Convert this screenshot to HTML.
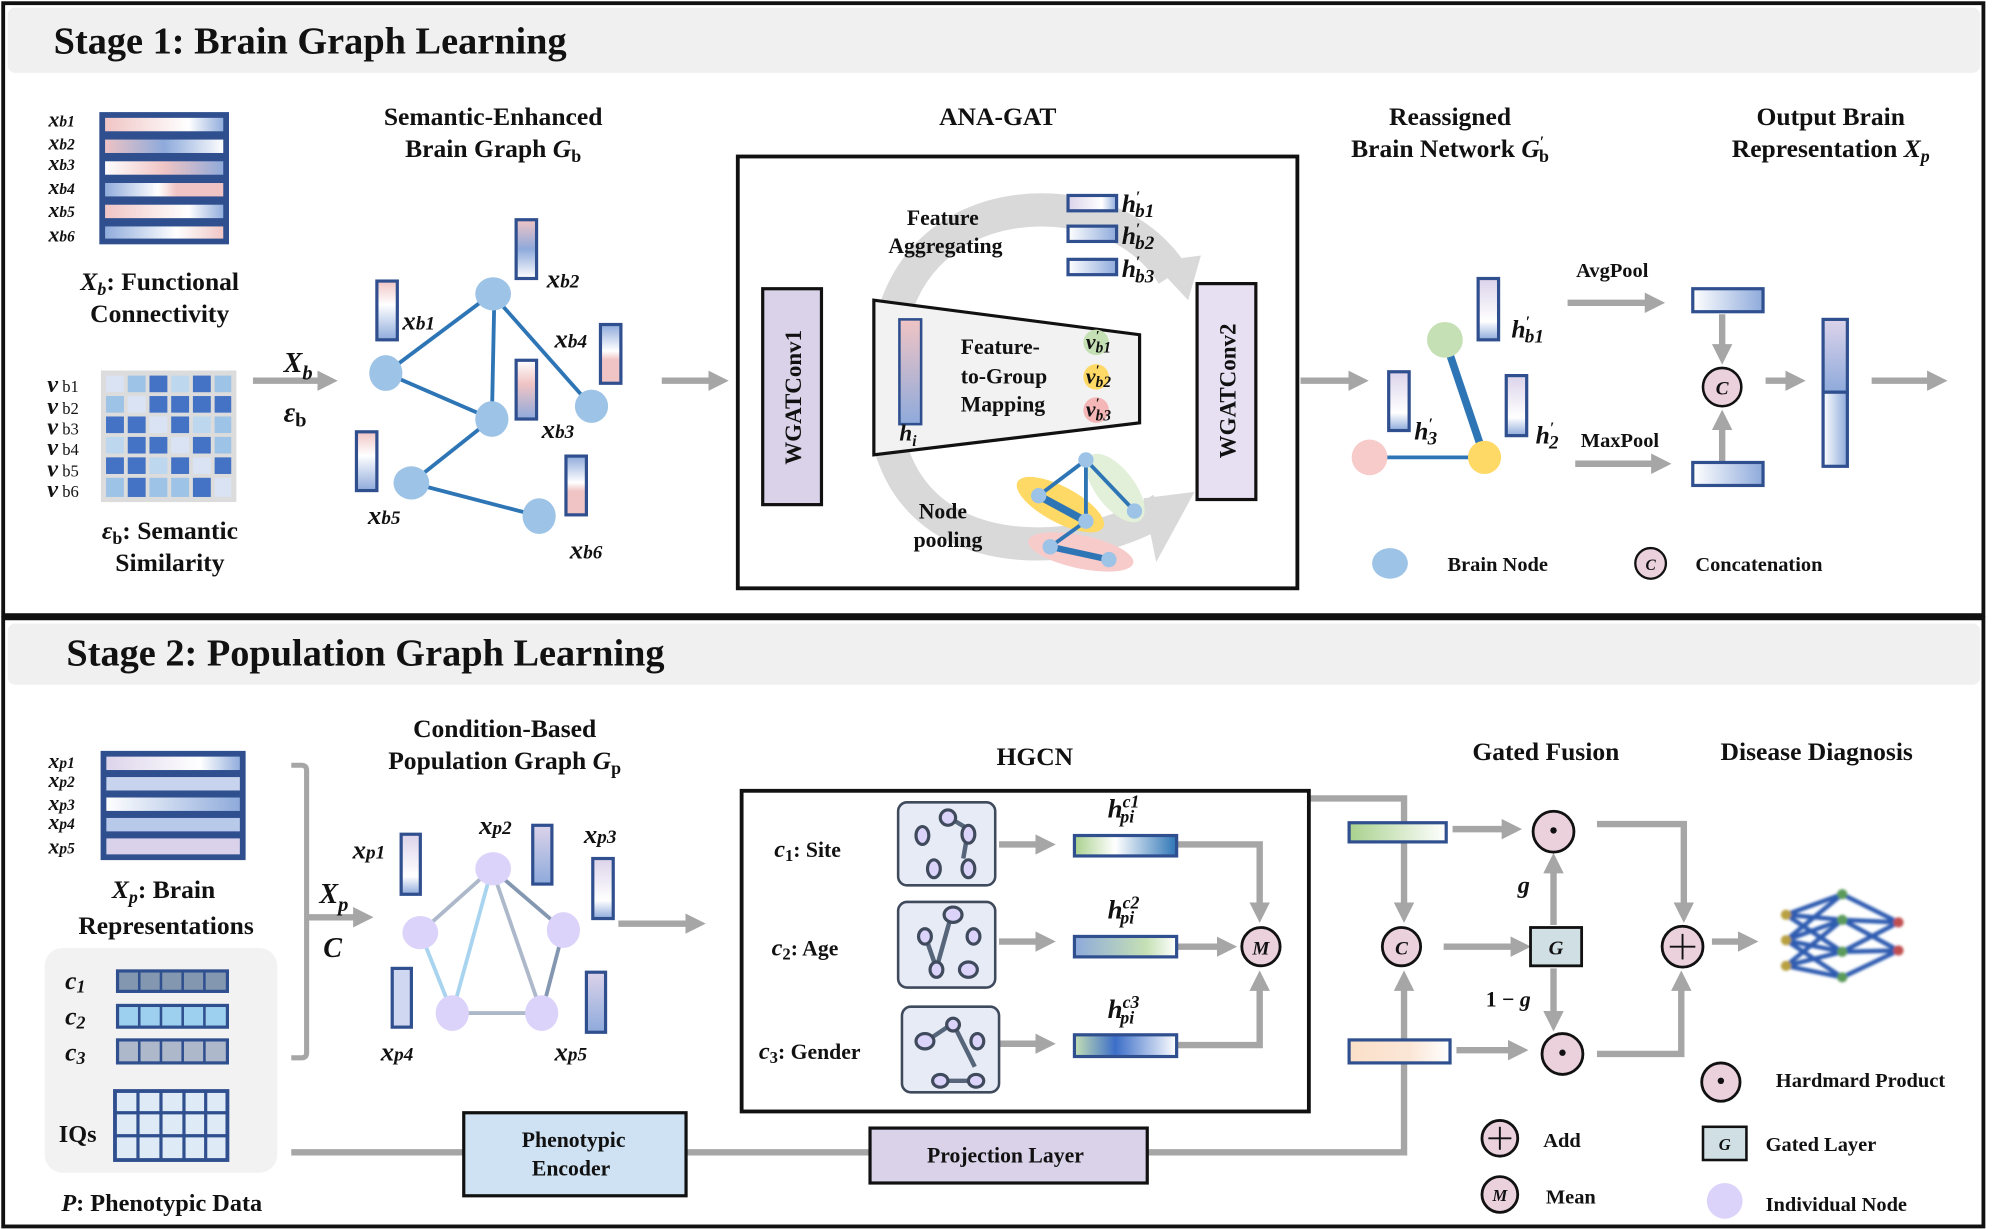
<!DOCTYPE html>
<html><head><meta charset="utf-8"><style>
html,body{margin:0;padding:0;background:#fff}
svg{display:block}
text{font-family:"Liberation Serif",serif;font-weight:bold;fill:#111}
</style></head><body>
<svg width="1993" height="1229" viewBox="0 0 1560 962" preserveAspectRatio="none" xmlns="http://www.w3.org/2000/svg">
<defs>
<marker id="ar" viewBox="0 0 10 10" refX="6" refY="5" markerWidth="3.2" markerHeight="3.2" orient="auto"><path d="M0,0L10,5L0,10z" fill="#a6a6a6"/></marker>
<linearGradient id="g1"><stop offset="0" stop-color="#f0c4c4"/><stop offset=".7" stop-color="#fff"/><stop offset="1" stop-color="#8eaadb"/></linearGradient>
<linearGradient id="g2"><stop offset="0" stop-color="#f0c4c4"/><stop offset=".5" stop-color="#8eaadb"/><stop offset="1" stop-color="#fff"/></linearGradient>
<linearGradient id="g3"><stop offset="0" stop-color="#fff"/><stop offset=".5" stop-color="#f0c4c4"/><stop offset="1" stop-color="#8eaadb"/></linearGradient>
<linearGradient id="g4"><stop offset="0" stop-color="#8eaadb"/><stop offset=".45" stop-color="#fff"/><stop offset=".6" stop-color="#f0c4c4"/><stop offset="1" stop-color="#f0c4c4"/></linearGradient>
<linearGradient id="g6"><stop offset="0" stop-color="#8eaadb"/><stop offset=".6" stop-color="#fff"/><stop offset="1" stop-color="#f0c4c4"/></linearGradient>
<linearGradient id="v1" x2="0" y2="1"><stop offset="0" stop-color="#f0c4c4"/><stop offset=".4" stop-color="#fff"/><stop offset="1" stop-color="#8eaadb"/></linearGradient>
<linearGradient id="v2" x2="0" y2="1"><stop offset="0" stop-color="#f0c4c4"/><stop offset=".5" stop-color="#8eaadb"/><stop offset="1" stop-color="#fff"/></linearGradient>
<linearGradient id="v3" x2="0" y2="1"><stop offset="0" stop-color="#fff"/><stop offset=".4" stop-color="#f0c4c4"/><stop offset="1" stop-color="#8eaadb"/></linearGradient>
<linearGradient id="v4" x2="0" y2="1"><stop offset="0" stop-color="#8eaadb"/><stop offset=".45" stop-color="#fff"/><stop offset=".6" stop-color="#f0c4c4"/></linearGradient>
<linearGradient id="vh" x2="0" y2="1"><stop offset="0" stop-color="#f0c4c4"/><stop offset="1" stop-color="#8eaadb"/></linearGradient>
<linearGradient id="pp"><stop offset="0" stop-color="#dcd3ea"/><stop offset=".7" stop-color="#fff"/><stop offset="1" stop-color="#8eaadb"/></linearGradient>
<linearGradient id="pb"><stop offset="0" stop-color="#fff"/><stop offset="1" stop-color="#8eaadb"/></linearGradient>
<linearGradient id="pv" x2="0" y2="1"><stop offset="0" stop-color="#dcd3ea"/><stop offset=".7" stop-color="#fff"/><stop offset="1" stop-color="#8eaadb"/></linearGradient>
<linearGradient id="pv2" x2="0" y2="1"><stop offset="0" stop-color="#dcd3ea"/><stop offset="1" stop-color="#8eaadb"/></linearGradient>
<linearGradient id="hc1"><stop offset="0" stop-color="#a9d18e"/><stop offset=".4" stop-color="#fff"/><stop offset="1" stop-color="#2e75b6"/></linearGradient>
<linearGradient id="hc2"><stop offset="0" stop-color="#8eaadb"/><stop offset=".7" stop-color="#c5e0b4"/><stop offset="1" stop-color="#fff"/></linearGradient>
<linearGradient id="hc3"><stop offset="0" stop-color="#c5e0b4"/><stop offset=".4" stop-color="#3c6ec8"/><stop offset="1" stop-color="#fff"/></linearGradient>
<linearGradient id="gg"><stop offset="0" stop-color="#a9d18e"/><stop offset="1" stop-color="#fff"/></linearGradient>
<linearGradient id="go"><stop offset="0" stop-color="#fbe0c8"/><stop offset=".6" stop-color="#fbe6d6"/><stop offset="1" stop-color="#fff"/></linearGradient>
<filter id="bl"><feGaussianBlur stdDeviation="1"/></filter>
</defs>
<rect width="1560" height="962" fill="#fff"/>
<rect x="6" y="6" width="1544" height="51" rx="6" fill="#f0f0f0"/>
<rect x="2.5" y="2.5" width="1550" height="479" fill="none" stroke="#111" stroke-width="3"/>
<rect x="6" y="488" width="1544" height="48" rx="6" fill="#f0f0f0"/>
<rect x="2.5" y="484" width="1550" height="476" fill="none" stroke="#111" stroke-width="3"/>
<text x="42" y="42" font-size="30">Stage 1: Brain Graph Learning</text>
<text x="52" y="521" font-size="30">Stage 2: Population Graph Learning</text>

<g stroke="#2f4f8f" stroke-width="2.5">
<rect x="79" y="89" width="99" height="101" fill="#2f4f8f"/>
<rect x="81" y="91" width="95" height="13" fill="url(#g1)"/>
<rect x="81" y="108" width="95" height="13" fill="url(#g2)"/>
<rect x="81" y="125" width="95" height="13" fill="url(#g3)"/>
<rect x="81" y="142" width="95" height="13" fill="url(#g4)"/>
<rect x="81" y="159" width="95" height="13" fill="url(#g1)"/>
<rect x="81" y="176" width="95" height="12" fill="url(#g6)"/>
</g>
<g font-size="17" font-style="italic" font-weight="normal">
<text x="38" y="99">x<tspan font-size="12">b1</tspan></text>
<text x="38" y="117">x<tspan font-size="12">b2</tspan></text>
<text x="38" y="133">x<tspan font-size="12">b3</tspan></text>
<text x="38" y="152">x<tspan font-size="12">b4</tspan></text>
<text x="38" y="170">x<tspan font-size="12">b5</tspan></text>
<text x="38" y="189">x<tspan font-size="12">b6</tspan></text>
</g>
<text x="125" y="227" font-size="20" text-anchor="middle"><tspan font-style="italic">X</tspan><tspan font-style="italic" font-size="14" dy="4">b</tspan><tspan dy="-4">: Functional</tspan></text>
<text x="125" y="252" font-size="20" text-anchor="middle">Connectivity</text>
<rect x="79" y="290" width="106" height="103" fill="#dcdcdc"/>
<g>
<rect x="83" y="294" width="14" height="13" fill="#dae3f3"/><rect x="100" y="294" width="14" height="13" fill="#9dc3e6"/><rect x="117" y="294" width="14" height="13" fill="#4472c4"/><rect x="134" y="294" width="14" height="13" fill="#bdd7ee"/><rect x="151" y="294" width="14" height="13" fill="#4472c4"/><rect x="168" y="294" width="13" height="13" fill="#9dc3e6"/>
<rect x="83" y="310" width="14" height="13" fill="#9dc3e6"/><rect x="100" y="310" width="14" height="13" fill="#dae3f3"/><rect x="117" y="310" width="14" height="13" fill="#4472c4"/><rect x="134" y="310" width="14" height="13" fill="#4472c4"/><rect x="151" y="310" width="14" height="13" fill="#4472c4"/><rect x="168" y="310" width="13" height="13" fill="#4472c4"/>
<rect x="83" y="326" width="14" height="13" fill="#4472c4"/><rect x="100" y="326" width="14" height="13" fill="#4472c4"/><rect x="117" y="326" width="14" height="13" fill="#dae3f3"/><rect x="134" y="326" width="14" height="13" fill="#4472c4"/><rect x="151" y="326" width="14" height="13" fill="#bdd7ee"/><rect x="168" y="326" width="13" height="13" fill="#9dc3e6"/>
<rect x="83" y="342" width="14" height="13" fill="#bdd7ee"/><rect x="100" y="342" width="14" height="13" fill="#4472c4"/><rect x="117" y="342" width="14" height="13" fill="#4472c4"/><rect x="134" y="342" width="14" height="13" fill="#dae3f3"/><rect x="151" y="342" width="14" height="13" fill="#4472c4"/><rect x="168" y="342" width="13" height="13" fill="#9dc3e6"/>
<rect x="83" y="358" width="14" height="13" fill="#4472c4"/><rect x="100" y="358" width="14" height="13" fill="#4472c4"/><rect x="117" y="358" width="14" height="13" fill="#bdd7ee"/><rect x="134" y="358" width="14" height="13" fill="#4472c4"/><rect x="151" y="358" width="14" height="13" fill="#dae3f3"/><rect x="168" y="358" width="13" height="13" fill="#4472c4"/>
<rect x="83" y="374" width="14" height="15" fill="#9dc3e6"/><rect x="100" y="374" width="14" height="15" fill="#4472c4"/><rect x="117" y="374" width="14" height="15" fill="#9dc3e6"/><rect x="134" y="374" width="14" height="15" fill="#9dc3e6"/><rect x="151" y="374" width="14" height="15" fill="#4472c4"/><rect x="168" y="374" width="13" height="15" fill="#dae3f3"/>
</g>
<g font-size="19">
<text x="37" y="307"><tspan font-style="italic">v</tspan><tspan font-size="13" font-weight="normal"> b1</tspan></text>
<text x="37" y="324"><tspan font-style="italic">v</tspan><tspan font-size="13" font-weight="normal"> b2</tspan></text>
<text x="37" y="340"><tspan font-style="italic">v</tspan><tspan font-size="13" font-weight="normal"> b3</tspan></text>
<text x="37" y="356"><tspan font-style="italic">v</tspan><tspan font-size="13" font-weight="normal"> b4</tspan></text>
<text x="37" y="373"><tspan font-style="italic">v</tspan><tspan font-size="13" font-weight="normal"> b5</tspan></text>
<text x="37" y="389"><tspan font-style="italic">v</tspan><tspan font-size="13" font-weight="normal"> b6</tspan></text>
</g>
<text x="133" y="422" font-size="20" text-anchor="middle"><tspan font-style="italic">ε</tspan><tspan font-size="14" dy="4">b</tspan><tspan dy="-4">: Semantic</tspan></text>
<text x="133" y="447" font-size="20" text-anchor="middle">Similarity</text>
<g stroke="#a6a6a6" stroke-width="5" fill="none" marker-end="url(#ar)">
<line x1="198" y1="298" x2="258" y2="298"/>
<line x1="518" y1="298" x2="564" y2="298"/>
<line x1="645" y1="298" x2="673" y2="298"/>
<line x1="1018" y1="298" x2="1065" y2="298"/>
<line x1="1227" y1="237" x2="1297" y2="237"/>
<line x1="1233" y1="363" x2="1302" y2="363"/>
<line x1="1348" y1="246" x2="1348" y2="279"/>
<line x1="1348" y1="362" x2="1348" y2="327"/>
<line x1="1382" y1="298" x2="1407" y2="298"/>
<line x1="1465" y1="298" x2="1518" y2="298"/>
</g>
<text x="222" y="291" font-size="22" font-style="italic">X<tspan font-size="16" dy="6">b</tspan></text>
<text x="222" y="330" font-size="22"><tspan font-style="italic">ε</tspan><tspan font-size="16" dy="4">b</tspan></text>
<text x="386" y="98" font-size="20" text-anchor="middle">Semantic-Enhanced</text>
<text x="386" y="123" font-size="20" text-anchor="middle">Brain Graph <tspan font-style="italic">G</tspan><tspan font-size="14" dy="4">b</tspan></text>
<g stroke="#2e75b6" stroke-width="3">
<line x1="385" y1="230" x2="302" y2="292"/><line x1="387" y1="230" x2="385" y2="328"/><line x1="385" y1="230" x2="463" y2="318"/>
<line x1="302" y1="292" x2="385" y2="328"/><line x1="385" y1="328" x2="322" y2="378"/><line x1="322" y1="378" x2="422" y2="404"/>
</g>
<g fill="#9dc3e6"><ellipse cx="386" cy="230" rx="14" ry="13"/><ellipse cx="302" cy="292" rx="13" ry="14"/><ellipse cx="385" cy="328" rx="13" ry="14"/><ellipse cx="463" cy="318" rx="13" ry="13"/><ellipse cx="322" cy="378" rx="14" ry="13"/><ellipse cx="422" cy="404" rx="13" ry="14"/></g>
<g stroke="#2f4f8f" stroke-width="2.5">
<rect x="295" y="220" width="16" height="46" fill="url(#v1)"/>
<rect x="404" y="172" width="16" height="46" fill="url(#v2)"/>
<rect x="470" y="254" width="16" height="46" fill="url(#v4)"/>
<rect x="404" y="282" width="16" height="46" fill="url(#v3)"/>
<rect x="279" y="338" width="16" height="46" fill="url(#v1)"/>
<rect x="443" y="357" width="16" height="46" fill="url(#v4)"/>
</g>
<g font-size="21" font-style="italic">
<text x="315" y="258">x<tspan font-size="15">b1</tspan></text>
<text x="428" y="225">x<tspan font-size="15">b2</tspan></text>
<text x="434" y="272">x<tspan font-size="15">b4</tspan></text>
<text x="424" y="343">x<tspan font-size="15">b3</tspan></text>
<text x="288" y="410">x<tspan font-size="15">b5</tspan></text>
<text x="446" y="437">x<tspan font-size="15">b6</tspan></text>
</g>
<text x="781" y="98" font-size="20" text-anchor="middle">ANA-GAT</text>
<rect x="577.5" y="122.5" width="438" height="338" fill="#fff" stroke="#111" stroke-width="3"/>
<g fill="none" stroke="#d9d9d9" stroke-width="26">
<path d="M700,245 C720,180 780,160 830,165 C880,170 905,195 918,215"/>
<path d="M697,350 C715,410 770,430 830,425 C870,420 900,405 910,398"/>
</g>
<path d="M902,205 L940,200 L930,235 Z" fill="#d9d9d9"/>
<path d="M895,390 L935,385 L905,440 Z" fill="#d9d9d9"/>
<text x="738" y="176" font-size="17" text-anchor="middle">Feature</text>
<text x="740" y="198" font-size="17" text-anchor="middle">Aggregating</text>
<g stroke="#2f4f8f" stroke-width="2.5">
<rect x="836" y="153" width="38" height="12" fill="url(#pp)"/>
<rect x="836" y="177" width="38" height="12" fill="url(#pb)"/>
<rect x="836" y="203" width="38" height="12" fill="url(#pb)"/>
</g>
<g font-size="20" font-style="italic">
<text x="878" y="166">h<tspan font-size="12" dy="-8">′</tspan><tspan font-size="15" dy="12" dx="-4">b1</tspan></text>
<text x="878" y="191">h<tspan font-size="12" dy="-8">′</tspan><tspan font-size="15" dy="12" dx="-4">b2</tspan></text>
<text x="878" y="217">h<tspan font-size="12" dy="-8">′</tspan><tspan font-size="15" dy="12" dx="-4">b3</tspan></text>
</g>
<rect x="597" y="226" width="46" height="169" fill="#d9d2e9" stroke="#111" stroke-width="2.5"/>
<text transform="translate(627,311) rotate(-90)" font-size="18" text-anchor="middle">WGATConv1</text>
<rect x="937" y="222" width="46" height="169" fill="#e6e0f2" stroke="#111" stroke-width="2.5"/>
<text transform="translate(967,306) rotate(-90)" font-size="18" text-anchor="middle">WGATConv2</text>
<path d="M684,235 L892,262 L892,331 L684,356 Z" fill="#f2f2f2" stroke="#111" stroke-width="2.5"/>
<rect x="704" y="250" width="17" height="82" fill="url(#vh)" stroke="#2f4f8f" stroke-width="2"/>
<text x="704" y="345" font-size="18" font-style="italic">h<tspan font-size="12" dy="4">i</tspan></text>
<text x="752" y="277" font-size="17">Feature-</text>
<text x="752" y="300" font-size="17">to-Group</text>
<text x="752" y="322" font-size="17">Mapping</text>
<circle cx="858" cy="268" r="10" fill="#c5e0b4"/><circle cx="858" cy="295" r="10" fill="#ffd966"/><circle cx="858" cy="321" r="10" fill="#f4b6b6"/>
<g font-size="17" font-style="italic">
<text x="850" y="273">v<tspan font-size="11" dy="-7">′</tspan><tspan font-size="12" dy="10" dx="-3">b1</tspan></text>
<text x="850" y="300">v<tspan font-size="11" dy="-7">′</tspan><tspan font-size="12" dy="10" dx="-3">b2</tspan></text>
<text x="850" y="326">v<tspan font-size="11" dy="-7">′</tspan><tspan font-size="12" dy="10" dx="-3">b3</tspan></text>
</g>
<text x="738" y="406" font-size="17" text-anchor="middle">Node</text>
<text x="742" y="428" font-size="17" text-anchor="middle">pooling</text>
<ellipse cx="830" cy="395" rx="38" ry="14" transform="rotate(28 830 395)" fill="#ffd966"/>
<ellipse cx="873" cy="382" rx="15" ry="32" transform="rotate(-38 873 382)" fill="#e2f0d9"/>
<ellipse cx="846" cy="432" rx="42" ry="13" transform="rotate(12 846 432)" fill="#f8cbcb"/>
<g stroke="#2e75b6" stroke-width="3"><line x1="850" y1="360" x2="813" y2="388"/><line x1="850" y1="360" x2="850" y2="408"/><line x1="850" y1="360" x2="888" y2="400"/><line x1="813" y1="388" x2="850" y2="408" stroke-width="6"/><line x1="850" y1="408" x2="822" y2="428"/><line x1="822" y1="428" x2="868" y2="438" stroke-width="5"/></g>
<g fill="#9dc3e6"><circle cx="850" cy="360" r="6"/><circle cx="813" cy="388" r="6"/><circle cx="850" cy="408" r="6"/><circle cx="888" cy="400" r="6"/><circle cx="822" cy="428" r="6"/><circle cx="868" cy="438" r="6"/></g>
<text x="1135" y="98" font-size="20" text-anchor="middle">Reassigned</text>
<text x="1135" y="123" font-size="20" text-anchor="middle">Brain Network <tspan font-style="italic">G</tspan><tspan font-size="12" dy="-8">′</tspan><tspan font-size="14" dy="12" dx="-4">b</tspan></text>
<line x1="1131" y1="266" x2="1162" y2="358" stroke="#2e75b6" stroke-width="6"/>
<line x1="1072" y1="358" x2="1162" y2="358" stroke="#2e75b6" stroke-width="3"/>
<circle cx="1131" cy="266" r="14" fill="#c5e0b4"/><circle cx="1072" cy="358" r="14" fill="#f8cbcb"/><circle cx="1162" cy="358" r="13" fill="#ffd966"/>
<g stroke="#2f4f8f" stroke-width="2.5">
<rect x="1157" y="218" width="16" height="48" fill="url(#pv)"/>
<rect x="1087" y="291" width="16" height="46" fill="url(#pv)"/>
<rect x="1179" y="294" width="16" height="47" fill="url(#pv)"/>
</g>
<g font-size="20" font-style="italic">
<text x="1183" y="264">h<tspan font-size="12" dy="-8">′</tspan><tspan font-size="15" dy="12" dx="-4">b1</tspan></text>
<text x="1107" y="344">h<tspan font-size="12" dy="-8">′</tspan><tspan font-size="15" dy="12" dx="-4">3</tspan></text>
<text x="1202" y="347">h<tspan font-size="12" dy="-8">′</tspan><tspan font-size="15" dy="12" dx="-4">2</tspan></text>
</g>
<text x="1262" y="217" font-size="16" text-anchor="middle">AvgPool</text>
<text x="1268" y="350" font-size="16" text-anchor="middle">MaxPool</text>
<g stroke="#2f4f8f" stroke-width="2.5">
<rect x="1325" y="226" width="55" height="18" fill="url(#pb)"/>
<rect x="1325" y="362" width="55" height="18" fill="url(#pb)"/>
<rect x="1427" y="250" width="19" height="57" fill="url(#pv2)"/>
<rect x="1427" y="307" width="19" height="58" fill="url(#pb)"/>
</g>
<circle cx="1348" cy="303" r="15" fill="#ead1dc" stroke="#111" stroke-width="2"/>
<text x="1348" y="309" font-size="15" font-style="italic" text-anchor="middle">C</text>
<text x="1433" y="98" font-size="20" text-anchor="middle">Output Brain</text>
<text x="1433" y="123" font-size="20" text-anchor="middle">Representation <tspan font-style="italic">X</tspan><tspan font-style="italic" font-size="14" dy="4">p</tspan></text>
<ellipse cx="1088" cy="441" rx="14" ry="12" fill="#9dc3e6"/>
<text x="1133" y="447" font-size="16">Brain Node</text>
<circle cx="1292" cy="441" r="12" fill="#ead1dc" stroke="#111" stroke-width="1.8"/>
<text x="1292" y="446" font-size="12" font-style="italic" text-anchor="middle">C</text>
<text x="1327" y="447" font-size="16">Concatenation</text>

<g stroke="#2f4f8f" stroke-width="2.5">
<rect x="80" y="589" width="111" height="83" fill="#2f4f8f"/>
<rect x="82" y="591" width="107" height="13" fill="url(#pp)"/>
<rect x="82" y="607" width="107" height="13" fill="#c8d4ee"/>
<rect x="82" y="623" width="107" height="13" fill="url(#pb)"/>
<rect x="82" y="639" width="107" height="13" fill="#b9c9ea"/>
<rect x="82" y="655" width="107" height="15" fill="#d9d2ea"/>
</g>
<g font-size="17" font-style="italic" font-weight="normal">
<text x="38" y="601">x<tspan font-size="12">p1</tspan></text>
<text x="38" y="616">x<tspan font-size="12">p2</tspan></text>
<text x="38" y="634">x<tspan font-size="12">p3</tspan></text>
<text x="38" y="649">x<tspan font-size="12">p4</tspan></text>
<text x="38" y="668">x<tspan font-size="12">p5</tspan></text>
</g>
<text x="128" y="703" font-size="20" text-anchor="middle"><tspan font-style="italic">X</tspan><tspan font-style="italic" font-size="14" dy="4">p</tspan><tspan dy="-4">: Brain</tspan></text>
<text x="130" y="731" font-size="20" text-anchor="middle">Representations</text>
<rect x="35" y="742" width="182" height="176" rx="14" fill="#f2f2f2"/>
<g stroke="#2f4f8f" stroke-width="2.5">
<rect x="92" y="760" width="86" height="16" fill="#8497b0"/>
<rect x="92" y="787" width="86" height="17" fill="#9dd0ee"/>
<rect x="92" y="814" width="86" height="18" fill="#adb9ca"/>
</g>
<g stroke="#2f4f8f" stroke-width="2">
<line x1="109" y1="760" x2="109" y2="776"/><line x1="126" y1="760" x2="126" y2="776"/><line x1="143" y1="760" x2="143" y2="776"/><line x1="160" y1="760" x2="160" y2="776"/>
<line x1="109" y1="787" x2="109" y2="804"/><line x1="126" y1="787" x2="126" y2="804"/><line x1="143" y1="787" x2="143" y2="804"/><line x1="160" y1="787" x2="160" y2="804"/>
<line x1="109" y1="814" x2="109" y2="832"/><line x1="126" y1="814" x2="126" y2="832"/><line x1="143" y1="814" x2="143" y2="832"/><line x1="160" y1="814" x2="160" y2="832"/>
</g>
<rect x="90" y="854" width="88" height="54" fill="#deebf7" stroke="#2f4f8f" stroke-width="3"/>
<g stroke="#2f4f8f" stroke-width="2.5"><line x1="108" y1="854" x2="108" y2="908"/><line x1="126" y1="854" x2="126" y2="908"/><line x1="144" y1="854" x2="144" y2="908"/><line x1="161" y1="854" x2="161" y2="908"/><line x1="90" y1="871" x2="178" y2="871"/><line x1="90" y1="889" x2="178" y2="889"/></g>
<g font-size="20" font-style="italic"><text x="51" y="774">c<tspan font-size="14" dy="3">1</tspan></text><text x="51" y="802">c<tspan font-size="14" dy="3">2</tspan></text><text x="51" y="830">c<tspan font-size="14" dy="3">3</tspan></text></g>
<text x="46" y="894" font-size="19">IQs</text>
<text x="48" y="948" font-size="19"><tspan font-style="italic">P</tspan>: Phenotypic Data</text>
<path d="M228,599 H236 Q240,599 240,603 V824 Q240,828 236,828 H228" fill="none" stroke="#a6a6a6" stroke-width="4"/>
<g stroke="#a6a6a6" stroke-width="5" fill="none" marker-end="url(#ar)">
<line x1="240" y1="718" x2="286" y2="718"/>
<line x1="484" y1="723" x2="546" y2="723"/>
<line x1="782" y1="661" x2="820" y2="661"/>
<line x1="782" y1="737" x2="820" y2="737"/>
<line x1="782" y1="817" x2="820" y2="817"/>
<polyline points="921,661 986,661 986,716"/>
<line x1="921" y1="741" x2="962" y2="741"/>
<polyline points="921,818 986,818 986,766"/>
<polyline points="1025,625 1099,625 1099,716"/>
<polyline points="898,902 1099,902 1099,766"/>
<line x1="1137" y1="649" x2="1185" y2="649"/>
<line x1="1140" y1="822" x2="1190" y2="822"/>
<line x1="1130" y1="741" x2="1192" y2="741"/>
<line x1="1216" y1="724" x2="1216" y2="674"/>
<line x1="1216" y1="758" x2="1216" y2="801"/>
<polyline points="1250,645 1318,645 1318,716"/>
<polyline points="1250,825 1316,825 1316,766"/>
<line x1="1340" y1="737" x2="1370" y2="737"/>
</g>
<text x="250" y="707" font-size="22" font-style="italic">X<tspan font-size="16" dy="6">p</tspan></text>
<text x="253" y="749" font-size="22" font-style="italic">C</text>
<text x="395" y="577" font-size="20" text-anchor="middle">Condition-Based</text>
<text x="395" y="602" font-size="20" text-anchor="middle">Population Graph <tspan font-style="italic">G</tspan><tspan font-size="14" dy="4">p</tspan></text>
<g stroke-width="3">
<line x1="385" y1="680" x2="329" y2="730" stroke="#adb9ca"/>
<line x1="385" y1="680" x2="354" y2="793" stroke="#a9d4f0"/>
<line x1="385" y1="680" x2="424" y2="793" stroke="#adb9ca"/>
<line x1="385" y1="680" x2="441" y2="728" stroke="#8497b0"/>
<line x1="329" y1="730" x2="354" y2="793" stroke="#a9d4f0"/>
<line x1="441" y1="728" x2="424" y2="793" stroke="#8497b0"/>
<line x1="354" y1="793" x2="424" y2="793" stroke="#adb9ca"/>
</g>
<g fill="#dcd3fb"><ellipse cx="386" cy="680" rx="14" ry="13"/><ellipse cx="329" cy="730" rx="14" ry="13"/><ellipse cx="441" cy="728" rx="13" ry="14"/><ellipse cx="354" cy="793" rx="13" ry="14"/><ellipse cx="424" cy="793" rx="13" ry="14"/></g>
<g stroke="#2f4f8f" stroke-width="2.5">
<rect x="314" y="653" width="15" height="47" fill="url(#pv)"/>
<rect x="417" y="646" width="15" height="46" fill="url(#pv2)"/>
<rect x="464" y="672" width="16" height="47" fill="url(#pv)"/>
<rect x="307" y="758" width="15" height="46" fill="#cfd8f0"/>
<rect x="459" y="761" width="15" height="47" fill="url(#pv2)"/>
</g>
<g font-size="21" font-style="italic">
<text x="276" y="672">x<tspan font-size="15">p1</tspan></text>
<text x="375" y="653">x<tspan font-size="15">p2</tspan></text>
<text x="457" y="660">x<tspan font-size="15">p3</tspan></text>
<text x="298" y="830">x<tspan font-size="15">p4</tspan></text>
<text x="434" y="830">x<tspan font-size="15">p5</tspan></text>
</g>
<text x="810" y="599" font-size="20" text-anchor="middle">HGCN</text>
<rect x="580.5" y="619" width="444" height="251" fill="none" stroke="#111" stroke-width="3"/>
<text x="606" y="671" font-size="17"><tspan font-style="italic" font-size="19">c</tspan><tspan font-size="13" dy="3">1</tspan><tspan dy="-3">: Site</tspan></text>
<text x="604" y="748" font-size="17"><tspan font-style="italic" font-size="19">c</tspan><tspan font-size="13" dy="3">2</tspan><tspan dy="-3">: Age</tspan></text>
<text x="594" y="829" font-size="17"><tspan font-style="italic" font-size="19">c</tspan><tspan font-size="13" dy="3">3</tspan><tspan dy="-3">: Gender</tspan></text>
<g fill="#e6ebf5" stroke="#3f4a5c" stroke-width="2">
<rect x="703" y="628" width="76" height="65" rx="7"/>
<rect x="703" y="706" width="76" height="67" rx="7"/>
<rect x="706" y="788" width="76" height="67" rx="7"/>
</g>
<g stroke="#56657a" stroke-width="3.5"><line x1="743" y1="640" x2="758" y2="649"/><line x1="758" y1="649" x2="754" y2="672"/><line x1="745" y1="715" x2="733" y2="758"/><line x1="733" y1="758" x2="725" y2="735"/><line x1="746" y1="801" x2="725" y2="815"/><line x1="746" y1="801" x2="763" y2="835"/><line x1="737" y1="846" x2="764" y2="846"/></g>
<g fill="#dcd3fb" stroke="#3f4a5c" stroke-width="2.5">
<ellipse cx="742" cy="640" rx="6" ry="6"/><ellipse cx="758" cy="653" rx="5" ry="7"/><ellipse cx="722" cy="654" rx="5" ry="7"/><ellipse cx="731" cy="680" rx="5" ry="7"/><ellipse cx="758" cy="680" rx="5" ry="7"/>
<ellipse cx="746" cy="716" rx="7" ry="6"/><ellipse cx="724" cy="733" rx="5" ry="6"/><ellipse cx="762" cy="733" rx="5" ry="6"/><ellipse cx="733" cy="759" rx="5" ry="6"/><ellipse cx="758" cy="759" rx="7" ry="6"/>
<ellipse cx="746" cy="802" rx="5" ry="5"/><ellipse cx="724" cy="815" rx="7" ry="6"/><ellipse cx="765" cy="815" rx="5" ry="6"/><ellipse cx="736" cy="846" rx="6" ry="5"/><ellipse cx="764" cy="846" rx="6" ry="5"/>
</g>
<g stroke="#2f4f8f" stroke-width="2.5">
<rect x="841" y="654" width="80" height="16" fill="url(#hc1)"/>
<rect x="841" y="733" width="80" height="16" fill="url(#hc2)"/>
<rect x="841" y="810" width="80" height="17" fill="url(#hc3)"/>
</g>
<g font-size="21" font-style="italic">
<text x="867" y="640">h<tspan font-size="14" dy="-8">c1</tspan><tspan font-size="14" dy="12" dx="-15">pi</tspan></text>
<text x="867" y="719">h<tspan font-size="14" dy="-8">c2</tspan><tspan font-size="14" dy="12" dx="-15">pi</tspan></text>
<text x="867" y="797">h<tspan font-size="14" dy="-8">c3</tspan><tspan font-size="14" dy="12" dx="-15">pi</tspan></text>
</g>
<circle cx="987" cy="741" r="15" fill="#ead1dc" stroke="#111" stroke-width="2.2"/>
<text x="987" y="747" font-size="15" font-style="italic" text-anchor="middle">M</text>
<line x1="228" y1="902" x2="363" y2="902" stroke="#a6a6a6" stroke-width="5"/>
<line x1="537" y1="902" x2="681" y2="902" stroke="#a6a6a6" stroke-width="5"/>
<rect x="363" y="871" width="174" height="65" fill="#cfe2f3" stroke="#111" stroke-width="2.5"/>
<text x="449" y="898" font-size="17" text-anchor="middle">Phenotypic</text>
<text x="447" y="920" font-size="17" text-anchor="middle">Encoder</text>
<rect x="681" y="883" width="217" height="43" fill="#d9d2e9" stroke="#111" stroke-width="2.5"/>
<text x="787" y="910" font-size="17" text-anchor="middle">Projection Layer</text>
<text x="1210" y="595" font-size="20" text-anchor="middle">Gated Fusion</text>
<text x="1422" y="595" font-size="20" text-anchor="middle">Disease Diagnosis</text>
<rect x="1056" y="644" width="76" height="15" fill="url(#gg)" stroke="#2f4f8f" stroke-width="2.5"/>
<rect x="1056" y="814" width="79" height="18" fill="url(#go)" stroke="#2f4f8f" stroke-width="2.5"/>
<g fill="#ead1dc" stroke="#111" stroke-width="2.2">
<circle cx="1097" cy="741" r="15"/><circle cx="1216" cy="651" r="16"/><circle cx="1223" cy="825" r="16"/><circle cx="1317" cy="741" r="16"/>
<circle cx="1347" cy="847" r="15"/><circle cx="1174" cy="891" r="14"/><circle cx="1174" cy="935" r="14"/>
</g>
<text x="1097" y="747" font-size="15" font-style="italic" text-anchor="middle">C</text>
<g fill="#111"><circle cx="1216" cy="650" r="2.5"/><circle cx="1223" cy="824" r="2.5"/><circle cx="1347" cy="846" r="2.5"/></g>
<g stroke="#111" stroke-width="1.5"><line x1="1307" y1="741" x2="1327" y2="741"/><line x1="1317" y1="731" x2="1317" y2="751"/><line x1="1165" y1="891" x2="1183" y2="891"/><line x1="1174" y1="882" x2="1174" y2="900"/></g>
<text x="1174" y="940" font-size="13" font-style="italic" text-anchor="middle">M</text>
<rect x="1198" y="726" width="40" height="30" fill="#d0dfe3" stroke="#111" stroke-width="2.2"/>
<text x="1218" y="747" font-size="16" font-style="italic" text-anchor="middle">G</text>
<text x="1188" y="699" font-size="19" font-style="italic">g</text>
<text x="1163" y="788" font-size="17">1 − <tspan font-style="italic">g</tspan></text>
<g filter="url(#bl)">
<g stroke="#2f5cb0" stroke-width="3.5">
<line x1="1398" y1="716" x2="1442" y2="700"/><line x1="1398" y1="716" x2="1442" y2="720"/><line x1="1398" y1="716" x2="1442" y2="745"/>
<line x1="1398" y1="736" x2="1442" y2="700"/><line x1="1398" y1="736" x2="1442" y2="720"/><line x1="1398" y1="736" x2="1442" y2="745"/><line x1="1398" y1="736" x2="1442" y2="765"/>
<line x1="1398" y1="756" x2="1442" y2="720"/><line x1="1398" y1="756" x2="1442" y2="745"/><line x1="1398" y1="756" x2="1442" y2="765"/>
<line x1="1442" y1="700" x2="1486" y2="722"/><line x1="1442" y1="720" x2="1486" y2="722"/><line x1="1442" y1="720" x2="1486" y2="744"/><line x1="1442" y1="745" x2="1486" y2="722"/><line x1="1442" y1="745" x2="1486" y2="744"/><line x1="1442" y1="765" x2="1486" y2="744"/>
</g>
<circle cx="1398" cy="716" r="4" fill="#b8a040"/><circle cx="1398" cy="736" r="4" fill="#b8a040"/><circle cx="1398" cy="756" r="4" fill="#b8a040"/>
<circle cx="1442" cy="700" r="4" fill="#5a9a5a"/><circle cx="1442" cy="720" r="4" fill="#5a9a5a"/><circle cx="1442" cy="745" r="4" fill="#5a9a5a"/><circle cx="1442" cy="765" r="4" fill="#5a9a5a"/>
<circle cx="1486" cy="722" r="4" fill="#c05050"/><circle cx="1486" cy="744" r="4" fill="#c05050"/>
</g>
<text x="1390" y="851" font-size="16">Hardmard Product</text>
<rect x="1333" y="882" width="34" height="26" fill="#d0dfe3" stroke="#111" stroke-width="2"/>
<text x="1350" y="900" font-size="13" font-style="italic" text-anchor="middle">G</text>
<text x="1382" y="901" font-size="16">Gated Layer</text>
<ellipse cx="1350" cy="940" rx="14" ry="14" fill="#dcd3fb"/>
<text x="1382" y="948" font-size="16">Individual Node</text>
<text x="1208" y="898" font-size="16">Add</text>
<text x="1210" y="942" font-size="16">Mean</text>
</svg>
</body></html>
